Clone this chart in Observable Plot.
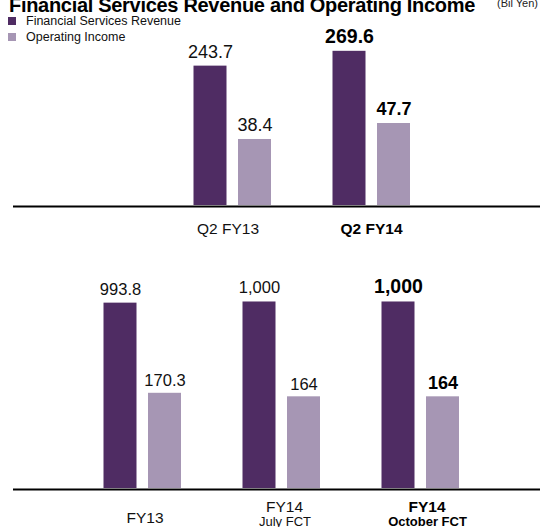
<!DOCTYPE html>
<html><head><meta charset="utf-8">
<script src="https://cdn.jsdelivr.net/npm/d3@7"></script>
<script src="https://cdn.jsdelivr.net/npm/@observablehq/plot@0.6"></script>
<style>
html,body{margin:0;padding:0;background:#fff;}
#root{position:relative;width:543px;height:527px;overflow:hidden;font-family:"Liberation Sans",Arial,sans-serif;}
#root svg{position:absolute;left:0;}
#title{position:absolute;left:9px;top:-5px;font-size:20px;font-weight:bold;line-height:20px;white-space:nowrap;letter-spacing:-0.3px;color:#000;z-index:2}
#unit{position:absolute;left:497px;top:-2px;font-size:11px;line-height:11px;white-space:nowrap;color:#222;z-index:2}
.leg{position:absolute;left:8px;font-size:12.5px;line-height:14px;white-space:nowrap;color:#111;z-index:2}
.leg span{display:inline-block;width:8px;height:8px;margin-right:10px;vertical-align:0px}
</style></head>
<body><div id="root">
<div id="title">Financial Services Revenue and Operating Income</div>
<div id="unit">(Bil Yen)</div>
<div class="leg" style="top:13.5px"><span id="sw1"></span>Financial Services Revenue</div>
<div class="leg" style="top:30px"><span id="sw2"></span>Operating Income</div>
</div>
<script>
// ---- data ----
const topCategories = ["Q2 FY13", "Q2 FY14"];
const topRevenue = [243.7, 269.6];
const topIncome = [38.4, 47.7];
const topRevenueLabels = ["243.7", "269.6"];
const topIncomeLabels = ["38.4", "47.7"];
const topHighlight = "Q2 FY14";

const bottomCategories = ["FY13", "FY14 July FCT", "FY14 October FCT"];
const bottomMainLabels = ["FY13", "FY14", "FY14"];
const bottomSubLabels = ["", "July FCT", "October FCT"];
const bottomRevenue = [993.8, 1000, 1000];
const bottomIncome = [170.3, 164, 164];
const bottomRevenueLabels = ["993.8", "1,000", "1,000"];
const bottomIncomeLabels = ["170.3", "164", "164"];
const bottomHighlight = "FY14 October FCT";

const REV = "#4f2c63", INC = "#a696b4";
document.getElementById("sw1").style.background = REV;
document.getElementById("sw2").style.background = INC;
const FONT = "Liberation Sans, Arial, sans-serif";

function rowsOf(cats, rev, inc, revL, incL, hi, main, sub) {
  return cats.map((c, i) => ({cat: c, rev: rev[i], inc: inc[i], revLabel: revL[i], incLabel: incL[i],
    hi: c === hi, main: main ? main[i] : c, sub: sub ? sub[i] : ""}));
}

// ---- top panel ----
const topRows = rowsOf(topCategories, topRevenue, topIncome, topRevenueLabels, topIncomeLabels, topHighlight);
const topRevMax = 306, topIncMax = 101.8;
const topInc = d3.scaleLinear().domain([0, topIncMax]).range([0, topRevMax]);
const topPlot = Plot.plot({
  width: 543, height: 245, marginTop: 30, marginBottom: 40, marginLeft: 13, marginRight: 3,
  style: {fontFamily: FONT, background: "transparent", overflow: "visible"},
  x: {domain: topCategories, paddingInner: 0.367, paddingOuter: 1.079, align: 0.583, axis: null},
  y: {domain: [0, topRevMax], axis: null},
  marks: [
    Plot.barY(topRows, {x: "cat", y: "rev", fill: REV, insetLeft: 5.5, insetRight: 49.5}),
    Plot.barY(topRows, {x: "cat", y: d => topInc(d.inc), fill: INC, insetLeft: 50, insetRight: 5}),
    Plot.ruleY([0], {stroke: "#000", strokeWidth: 2, dy: 1}),
    Plot.text(topRows.filter(d => !d.hi), {x: "cat", y: "rev", text: "revLabel", dx: -22, dy: -8, lineAnchor: "bottom", fontSize: 18, fill: "#111"}),
    Plot.text(topRows.filter(d => d.hi), {x: "cat", y: "rev", text: "revLabel", dx: -22, dy: -8, lineAnchor: "bottom", fontSize: 19.5, fontWeight: "bold", fill: "#000"}),
    Plot.text(topRows.filter(d => !d.hi), {x: "cat", y: d => topInc(d.inc), text: "incLabel", dx: 22.5, dy: -8, lineAnchor: "bottom", fontSize: 18, fill: "#111"}),
    Plot.text(topRows.filter(d => d.hi), {x: "cat", y: d => topInc(d.inc), text: "incLabel", dx: 22.5, dy: -8.5, lineAnchor: "bottom", fontSize: 18, fontWeight: "bold", fill: "#000"}),
    Plot.text(topRows.filter(d => !d.hi), {x: "cat", text: "main", frameAnchor: "bottom", lineAnchor: "bottom", dx: -4.5, dy: 28, fontSize: 15.5, fill: "#111"}),
    Plot.text(topRows.filter(d => d.hi), {x: "cat", text: "main", frameAnchor: "bottom", lineAnchor: "bottom", dx: 0, dy: 28, fontSize: 15.5, fontWeight: "bold", fill: "#000"})
  ]
});
topPlot.style.top = "0px";

// ---- bottom panel ----
const botRows = rowsOf(bottomCategories, bottomRevenue, bottomIncome, bottomRevenueLabels, bottomIncomeLabels, bottomHighlight, bottomMainLabels, bottomSubLabels);
const botRevMax = 1142, botIncMax = 381;
const botInc = d3.scaleLinear().domain([0, botIncMax]).range([0, botRevMax]);
const single = botRows.filter(d => !d.sub);
const multi = botRows.filter(d => d.sub);
const botPlot = Plot.plot({
  width: 543, height: 282, marginTop: 30, marginBottom: 39, marginLeft: 13, marginRight: 3,
  style: {fontFamily: FONT, background: "transparent", overflow: "visible"},
  x: {domain: bottomCategories, paddingInner: 0.367, paddingOuter: 0.579, align: 0.525, axis: null},
  y: {domain: [0, botRevMax], axis: null},
  marks: [
    Plot.barY(botRows, {x: "cat", y: "rev", fill: REV, insetLeft: 5.5, insetRight: 49.5}),
    Plot.barY(botRows, {x: "cat", y: d => botInc(d.inc), fill: INC, insetLeft: 50, insetRight: 5}),
    Plot.ruleY([0], {stroke: "#000", strokeWidth: 2, dy: 1}),
    Plot.text(botRows.filter(d => !d.hi), {x: "cat", y: "rev", text: "revLabel", dx: -22, dy: -8.5, lineAnchor: "bottom", fontSize: 16.5, fill: "#111"}),
    Plot.text(botRows.filter(d => d.hi), {x: "cat", y: "rev", text: "revLabel", dx: -22, dy: -9, lineAnchor: "bottom", fontSize: 19.5, fontWeight: "bold", fill: "#000"}),
    Plot.text(botRows.filter(d => !d.hi), {x: "cat", y: d => botInc(d.inc), text: "incLabel", dx: 22.5, dy: -7, lineAnchor: "bottom", fontSize: 16.5, fill: "#111"}),
    Plot.text(botRows.filter(d => d.hi), {x: "cat", y: d => botInc(d.inc), text: "incLabel", dx: 22.5, dy: -8, lineAnchor: "bottom", fontSize: 18, fontWeight: "bold", fill: "#000"}),
    Plot.text(single, {x: "cat", text: "main", frameAnchor: "bottom", lineAnchor: "bottom", dx: 2.5, dy: 34, fontSize: 15.5, fill: "#111"}),
    Plot.text(multi.filter(d => !d.hi), {x: "cat", text: "main", frameAnchor: "bottom", lineAnchor: "bottom", dx: 3, dy: 23, fontSize: 15.5, fill: "#111"}),
    Plot.text(multi.filter(d => !d.hi), {x: "cat", text: "sub", frameAnchor: "bottom", lineAnchor: "bottom", dx: 3.5, dy: 37.5, fontSize: 13, fill: "#111"}),
    Plot.text(multi.filter(d => d.hi), {x: "cat", text: "main", frameAnchor: "bottom", lineAnchor: "bottom", dx: 6.5, dy: 23, fontSize: 15.5, fontWeight: "bold", fill: "#000"}),
    Plot.text(multi.filter(d => d.hi), {x: "cat", text: "sub", frameAnchor: "bottom", lineAnchor: "bottom", dx: 7, dy: 37.5, fontSize: 13, fontWeight: "bold", fill: "#000"})
  ]
});
botPlot.style.top = "245px";

const root = document.getElementById("root");
root.insertBefore(botPlot, root.firstChild);
root.insertBefore(topPlot, root.firstChild);
</script>
</body></html>
